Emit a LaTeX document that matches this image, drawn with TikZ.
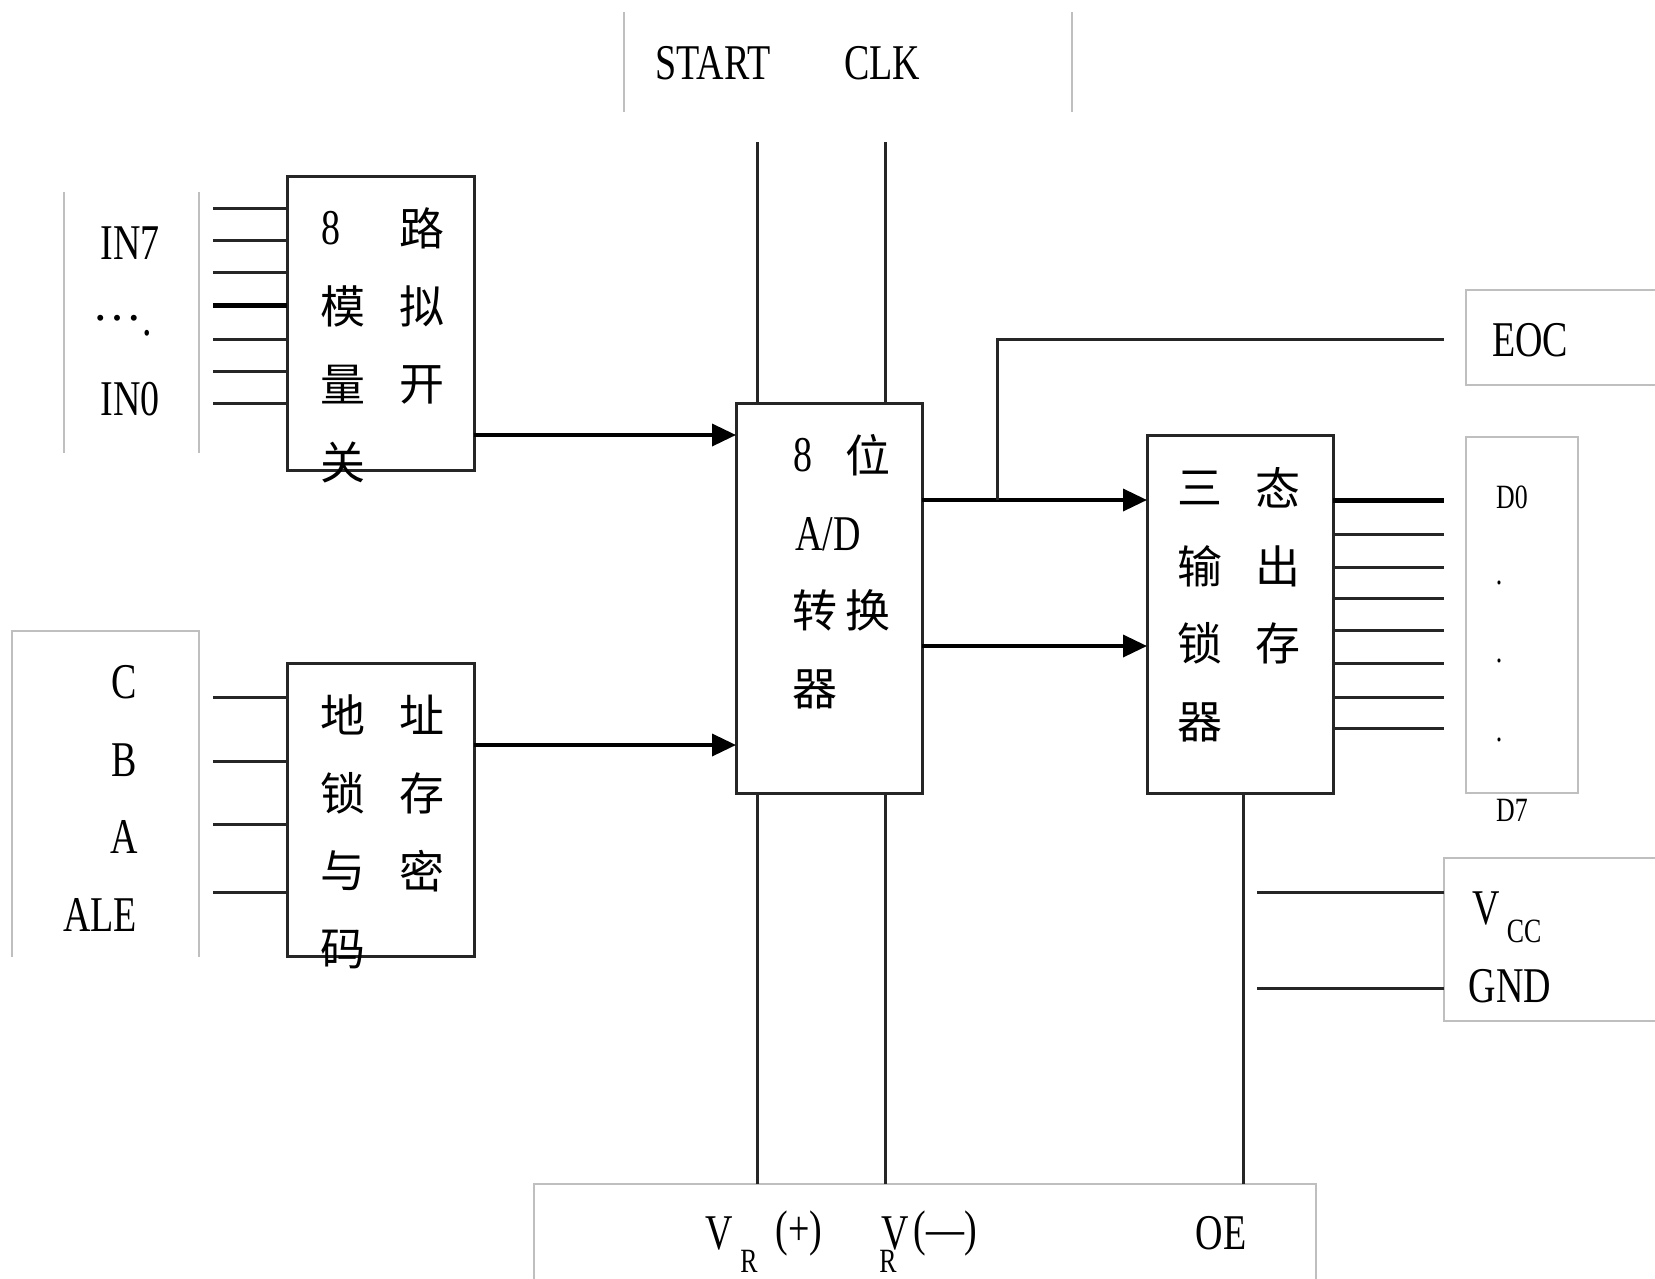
\documentclass[tikz,border=0pt]{standalone}
\usepackage{fontspec}
\setmainfont{Liberation Serif}
\newfontfamily\lat[FakeStretch=0.76]{Liberation Serif}
\newfontfamily\latn{Liberation Serif}
\newfontfamily\cjk{Noto Sans CJK SC}
\usetikzlibrary{arrows.meta}
\begin{document}
\begin{tikzpicture}[x=1pt,y=-1pt,
  wire/.style={draw=black!85,line width=3pt},
  thickwire/.style={draw=black,line width=5pt},
  arr/.style={draw=black,line width=3.6pt,-{Triangle[length=24pt,width=22pt]}},
  frame/.style={draw=black!25,line width=2pt},
  blk/.style={draw=black!85,line width=3pt,rectangle,inner sep=0pt,outer sep=0pt},
  lab/.style={font=\lat\fontsize{50}{50}\selectfont,inner sep=0pt},
  sml/.style={font=\lat\fontsize{34}{34}\selectfont,inner sep=0pt},
  zh/.style={font=\cjk\fontsize{45}{45}\selectfont,inner sep=0pt}]
\useasboundingbox[fill=white] (0,0) rectangle (1655,1278);

% gray frames
\draw[frame] (64,192) -- (64,453) (199,192) -- (199,453);
\draw[frame] (12,957) -- (12,631) -- (199,631) -- (199,957);
\draw[frame] (624,12) -- (624,112) (1072,12) -- (1072,112);
\draw[frame] (1665,290) -- (1466,290) -- (1466,385) -- (1665,385);
\draw[frame] (1466,437) rectangle (1578,793);
\draw[frame] (1665,858) -- (1444,858) -- (1444,1021) -- (1665,1021);
\draw[frame] (534,1290) -- (534,1184) -- (1316,1184) -- (1316,1290);

% blocks
\node[blk,minimum width=187pt,minimum height=294pt] (mux) at (380.5,323) {};
\node[blk,minimum width=187pt,minimum height=293pt] (addr) at (380.5,809.5) {};
\node[blk,minimum width=186pt,minimum height=390pt] (adc) at (829,598) {};
\node[blk,minimum width=186pt,minimum height=358pt] (latch) at (1240,614) {};

% input lines IN7..IN0
\foreach \y [count=\i] in {208,240,272,339,371,403} {
  \coordinate (in\i) at (213,\y);
  \draw[wire] (in\i) -- (in\i -| mux.west);
}
\coordinate (inmid) at (213,305);
\draw[thickwire] (inmid) -- (inmid -| mux.west);

% address lines
\foreach \y [count=\i] in {697,761,824,892} {
  \coordinate (ad\i) at (213,\y);
  \draw[wire] (ad\i) -- (ad\i -| addr.west);
}

% arrows into ADC
\coordinate (ya) at (0,435);
\coordinate (yb) at (0,745);
\draw[arr] (ya -| mux.east) -- (ya -| adc.west);
\draw[arr] (yb -| addr.east) -- (yb -| adc.west);

% arrows ADC -> latch
\coordinate (yc) at (0,500);
\coordinate (yd) at (0,646);
\draw[arr] (yc -| adc.east) -- (yc -| latch.west);
\draw[arr] (yd -| adc.east) -- (yd -| latch.west);

% EOC
\coordinate (eocj) at (997,500);
\coordinate (eocend) at (1444,339);
\draw[wire] (eocj) |- (eocend);

% START / CLK / VR lines
\coordinate (st) at (757,142);
\coordinate (ck) at (885,142);
\coordinate (boty) at (0,1184);
\draw[wire] (st) -- (st |- adc.north);
\draw[wire] (ck) -- (ck |- adc.north);
\draw[wire] (st |- adc.south) -- (st |- boty);
\draw[wire] (ck |- adc.south) -- (ck |- boty);
\coordinate (oex) at (1243,0);
\draw[wire] (oex |- latch.south) -- (oex |- boty);

% data outputs
\coordinate (d0) at (1444,500);
\draw[thickwire] (d0 -| latch.east) -- (d0);
\foreach \y [count=\i] in {534,567,598,630,663,697,728} {
  \coordinate (dd\i) at (1444,\y);
  \draw[wire] (dd\i -| latch.east) -- (dd\i);
}

% Vcc / GND
\coordinate (vccl) at (1257,892);
\coordinate (vccr) at (1444,892);
\coordinate (gndl) at (1257,988);
\coordinate (gndr) at (1444,988);
\draw[wire] (vccl) -- (vccr);
\draw[wire] (gndl) -- (gndr);

% left labels
\node[lab] (tin7) at (130,243) {IN7};
\node[lab,anchor=base west] (tdots) at (92,335) {\raisebox{15pt}{\latn\fontsize{50}{50}\selectfont …}.};
\node[lab] (tin0) at (130,399) {IN0};
\node[lab] (tc) at (124,682) {C};
\node[lab] (tb) at (124,760) {B};
\node[lab] (ta) at (124,837) {A};
\node[lab] (tale) at (100,915) {ALE};

% top labels
\node[lab] (tstart) at (713,63) {START};
\node[lab] (tclk) at (882,63) {CLK};

% mux text
\node[lab] (m1a) at (331,228) {8};
\node[zh] (m1b) at (422,228) {路};
\node[zh] (m2a) at (343,306) {模};
\node[zh] (m2b) at (422,306) {拟};
\node[zh] (m3a) at (343,385) {量};
\node[zh] (m3b) at (422,385) {开};
\node[zh] (m4a) at (343,462) {关};

% addr text
\node[zh] (a1a) at (343,715) {地};
\node[zh] (a1b) at (422,715) {址};
\node[zh] (a2a) at (343,793) {锁};
\node[zh] (a2b) at (422,793) {存};
\node[zh] (a3a) at (343,871) {与};
\node[zh] (a3b) at (422,871) {密};
\node[zh] (a4a) at (343,949) {码};

% adc text
\node[lab] (c1a) at (803,455) {8};
\node[zh] (c1b) at (868,455) {位};
\node[lab] (c2) at (828,534) {A/D};
\node[zh] (c3a) at (815,610) {转};
\node[zh] (c3b) at (868,610) {换};
\node[zh] (c4) at (815,689) {器};

% latch text
\node[zh] (l1a) at (1200,488) {三};
\node[zh] (l1b) at (1278,488) {态};
\node[zh] (l2a) at (1200,566) {输};
\node[zh] (l2b) at (1278,566) {出};
\node[zh] (l3a) at (1200,643) {锁};
\node[zh] (l3b) at (1278,643) {存};
\node[zh] (l4a) at (1200,722) {器};

% right labels
\node[lab] (teoc) at (1530,340) {EOC};
\node[sml] (td0) at (1512,497) {D0};
\node[sml,anchor=base] (tp1) at (1499,584) {.};
\node[sml,anchor=base] (tp2) at (1499,662) {.};
\node[sml,anchor=base] (tp3) at (1499,741) {.};
\node[sml] (td7) at (1512,810) {D7};
\node[lab] (tv) at (1486,908) {V};
\node[sml] (tcc) at (1524,931) {CC};
\node[lab] (tgnd) at (1510,986) {GND};

% bottom labels
\node[lab] (bv1) at (719,1233) {V};
\node[sml] (br1) at (749,1261) {R};
\node[lab] (bp1) at (799,1233) {(+)};
\node[lab] (bv2) at (895,1233) {V};
\node[sml] (br2) at (888,1261) {R};
\node[lab] (bp2) at (945,1233) {(—)};
\node[lab] (boe) at (1221,1233) {OE};
\end{tikzpicture}
\end{document}
